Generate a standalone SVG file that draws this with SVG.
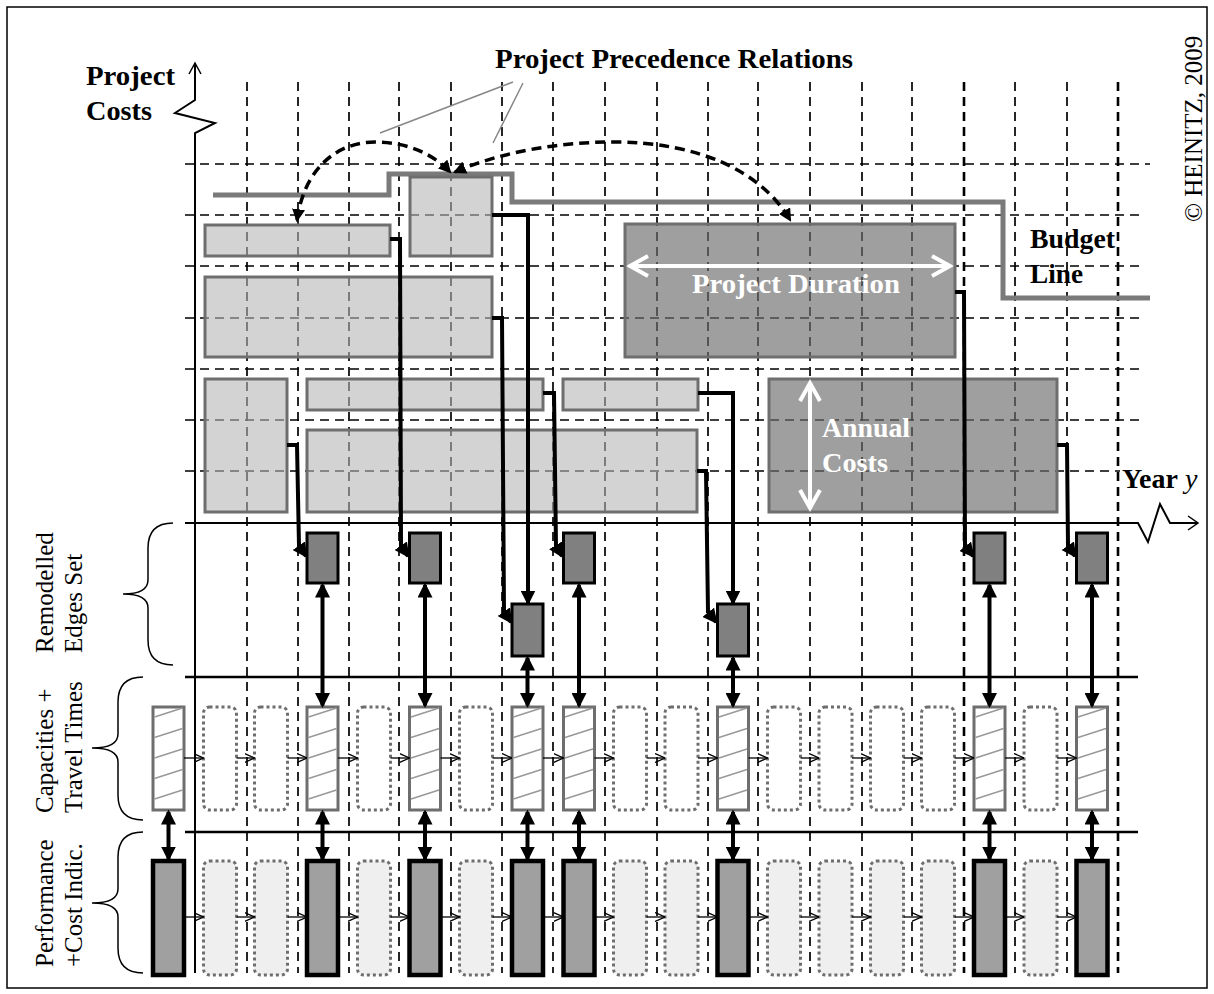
<svg xmlns="http://www.w3.org/2000/svg" width="1214" height="994" viewBox="0 0 1214 994">
<style>
.ser{font-family:"Liberation Serif","Times New Roman",serif}
.bold{font-weight:bold}
.lbl{font-size:25px}
.big{font-size:28px}
.light{fill:#b6b6b6;fill-opacity:.6;stroke:#6e6e6e;stroke-width:3}
.dark{fill:#6e6e6e;fill-opacity:.66;stroke:#6e6e6e;stroke-width:3}
.rem{fill:#808080;stroke:#000;stroke-width:3}
.dot{fill:#fff;stroke:#6e6e6e;stroke-width:3;stroke-dasharray:3,3}
.dotp{fill:#efefef;stroke:#6e6e6e;stroke-width:3;stroke-dasharray:3,3}
.perf{fill:#a0a0a0;stroke:#000;stroke-width:4.5}
.conn{fill:none;stroke:#000;stroke-width:4;marker-end:url(#ah)}
.dbl{fill:none;stroke:#000;stroke-width:4;marker-start:url(#ah);marker-end:url(#ah)}
.sm{fill:none;stroke:#000;stroke-width:1.3;marker-end:url(#oa)}
.arc{fill:none;stroke:#000;stroke-width:3.5;stroke-dasharray:10,6;marker-start:url(#ah2);marker-end:url(#ah2)}
.brace{fill:none;stroke:#000;stroke-width:1.5}
</style>
<defs>
<marker id="ah" viewBox="0 0 12 12" refX="10" refY="6" markerWidth="15" markerHeight="15" markerUnits="userSpaceOnUse" orient="auto-start-reverse"><path d="M0,0 L12,6 L0,12 z" fill="#000"/></marker>
<marker id="ah2" viewBox="0 0 12 12" refX="10" refY="6" markerWidth="13" markerHeight="13" markerUnits="userSpaceOnUse" orient="auto-start-reverse"><path d="M0,0 L12,6 L0,12 z" fill="#000"/></marker>
<marker id="oa" viewBox="0 0 10 10" refX="10" refY="5" markerWidth="10" markerHeight="10" markerUnits="userSpaceOnUse" orient="auto"><path d="M0,0.5 L10,5 L0,9.5" fill="none" stroke="#000" stroke-width="1.3"/></marker>
<g id="hb">
<rect x="0" y="0" width="31" height="103" fill="#fff" stroke="#6e6e6e" stroke-width="3"/>
<path d="M1.5,10 L29.5,1 M1.5,30.5 L29.5,21.5 M1.5,51 L29.5,42 M1.5,71.5 L29.5,62.5 M1.5,92 L29.5,83" stroke="#999" stroke-width="1.5"/>
</g>
</defs>
<rect x="0" y="0" width="1214" height="994" fill="#fff"/>
<rect x="7" y="7" width="1200" height="981" fill="none" stroke="#000" stroke-width="1.5"/>

<g id="grid" fill="none" stroke="#000" stroke-width="1.7" stroke-dasharray="9,6">
<path d="M247,82V973 M298,82V973 M349,82V973 M399,82V973 M451,82V973 M502,82V973 M553,82V973 M605,82V973 M657,82V973 M708,82V973 M758,82V973 M810,82V973 M862,82V973 M912,82V973 M1015,82V973 M1067,82V973"/>
<path d="M964,82V973 M1118,82V973" stroke-width="2.6"/>
<path d="M185,164H1150 M185,215H1145 M185,266H1145 M185,318H1145 M185,369H1140 M185,420H1140 M185,471H1120"/>
</g>

<g id="axes" fill="none" stroke="#000">
<path d="M195,973 V133 L215,123 L175,113 L195,100 V63" stroke-width="2"/>
<path d="M189,74 L195,63 L201,74" stroke-width="1.5"/>
<path d="M185,523 H1138 L1148,542 L1160,504 L1170,523 H1198" stroke-width="2"/>
<path d="M1188,516 L1198,523 L1188,530" stroke-width="1.5"/>
<path d="M185,677 H1138 M185,832 H1138" stroke-width="2.5"/>
</g>

<g id="budget-line"><path d="M213,195 H389 V174 H512 V202 H1003 V298 H1150" fill="none" stroke="#7a7a7a" stroke-width="5"/></g>

<g id="p1"><rect class="light" x="205" y="225" width="185" height="31"/></g>
<g id="p2"><rect class="light" x="410" y="177" width="82" height="79"/></g>
<g id="p3"><rect class="light" x="205" y="277" width="287" height="80"/></g>
<g id="p4"><rect class="light" x="205" y="379" width="82" height="133"/></g>
<g id="p5"><rect class="light" x="307" y="379" width="236" height="31"/></g>
<g id="p6"><rect class="light" x="307" y="430" width="390" height="82"/></g>
<g id="p7"><rect class="light" x="563" y="379" width="135" height="31"/></g>
<g id="p8"><rect class="dark" x="625" y="224" width="330" height="133"/>
<path d="M630,266 H950 M648,256 L630,266 L648,276 M932,256 L950,266 L932,276" fill="none" stroke="#fff" stroke-width="4"/>
<text class="ser bold big" x="692" y="293" textLength="208" lengthAdjust="spacingAndGlyphs" fill="#fff">Project Duration</text></g>
<g id="p9"><rect class="dark" x="769" y="379" width="288" height="133"/>
<path d="M810,383 V508 M800,401 L810,383 L820,401 M800,490 L810,508 L820,490" fill="none" stroke="#fff" stroke-width="4"/>
<text class="ser bold big" x="822" y="437" textLength="88" lengthAdjust="spacingAndGlyphs" fill="#fff">Annual</text>
<text class="ser bold big" x="822" y="472" textLength="66" lengthAdjust="spacingAndGlyphs" fill="#fff">Costs</text></g>

<g id="texts" class="ser">
<text class="bold big" x="495" y="68" textLength="358" lengthAdjust="spacingAndGlyphs">Project Precedence Relations</text>
<text class="bold big" x="86" y="85" textLength="89" lengthAdjust="spacingAndGlyphs">Project</text>
<text class="bold big" x="86" y="120" textLength="66" lengthAdjust="spacingAndGlyphs">Costs</text>
<text class="bold big" x="1030" y="248" textLength="85" lengthAdjust="spacingAndGlyphs">Budget</text>
<text class="bold big" x="1030" y="283" textLength="53" lengthAdjust="spacingAndGlyphs">Line</text>
<text class="big" x="1122" y="488"><tspan font-weight="bold">Year</tspan> <tspan font-style="italic">y</tspan></text>
<text class="lbl" transform="translate(1202,222) rotate(-90)">© HEINITZ, 2009</text>
<text class="lbl" transform="translate(53,653) rotate(-90)">Remodelled</text>
<text class="lbl" transform="translate(82,653) rotate(-90)">Edges Set</text>
<text class="lbl" transform="translate(53,813) rotate(-90)">Capacities +</text>
<text class="lbl" transform="translate(82,813) rotate(-90)">Travel Times</text>
<text class="lbl" transform="translate(53,967) rotate(-90)">Performance</text>
<text class="lbl" transform="translate(82,967) rotate(-90)">+Cost Indic.</text>
</g>

<g id="braces">
<path class="brace" d="M173,523 C155,523 148,532 148,548 V580 C148,590 138,594 123,594 C138,594 148,598 148,608 V640 C148,656 155,665 173,665"/>
<path class="brace" d="M143,677 C125,677 118,686 118,702 V734 C118,744 107,748 92,748 C107,748 118,752 118,762 V795 C118,811 125,820 143,820"/>
<path class="brace" d="M143,832 C125,832 118,841 118,857 V889 C118,899 107,903 92,903 C107,903 118,907 118,917 V948 C118,964 125,973 143,973"/>
</g>

<g id="remodelled">
<rect class="rem" x="307" y="533" width="31" height="50"/>
<rect class="rem" x="409.5" y="533" width="31" height="50"/>
<rect class="rem" x="563.5" y="533" width="31" height="50"/>
<rect class="rem" x="974" y="533" width="31" height="50"/>
<rect class="rem" x="1076.5" y="533" width="31" height="50"/>
<rect class="rem" x="512" y="604" width="31" height="52"/>
<rect class="rem" x="717.5" y="604" width="31" height="52"/>
</g>

<g id="capacities">
<use href="#hb" x="153" y="707"/>
<use href="#hb" x="307" y="707"/>
<use href="#hb" x="409.5" y="707"/>
<use href="#hb" x="512" y="707"/>
<use href="#hb" x="563.5" y="707"/>
<use href="#hb" x="717.5" y="707"/>
<use href="#hb" x="974" y="707"/>
<use href="#hb" x="1076.5" y="707"/>
<rect class="dot" x="203.5" y="707" width="33" height="103" rx="6"/>
<rect class="dot" x="254.5" y="707" width="33" height="103" rx="6"/>
<rect class="dot" x="357.5" y="707" width="33" height="103" rx="6"/>
<rect class="dot" x="459.5" y="707" width="33" height="103" rx="6"/>
<rect class="dot" x="613.5" y="707" width="33" height="103" rx="6"/>
<rect class="dot" x="665" y="707" width="33" height="103" rx="6"/>
<rect class="dot" x="767.5" y="707" width="33" height="103" rx="6"/>
<rect class="dot" x="819" y="707" width="33" height="103" rx="6"/>
<rect class="dot" x="870.5" y="707" width="33" height="103" rx="6"/>
<rect class="dot" x="921.5" y="707" width="33" height="103" rx="6"/>
<rect class="dot" x="1024" y="707" width="33" height="103" rx="6"/>
</g>

<g id="performance">
<rect class="perf" x="153" y="861" width="31" height="114"/>
<rect class="perf" x="307" y="861" width="31" height="114"/>
<rect class="perf" x="409.5" y="861" width="31" height="114"/>
<rect class="perf" x="512" y="861" width="31" height="114"/>
<rect class="perf" x="563.5" y="861" width="31" height="114"/>
<rect class="perf" x="717.5" y="861" width="31" height="114"/>
<rect class="perf" x="974" y="861" width="31" height="114"/>
<rect class="perf" x="1076.5" y="861" width="31" height="114"/>
<rect class="dotp" x="203.5" y="861" width="33" height="114" rx="6"/>
<rect class="dotp" x="254.5" y="861" width="33" height="114" rx="6"/>
<rect class="dotp" x="357.5" y="861" width="33" height="114" rx="6"/>
<rect class="dotp" x="459.5" y="861" width="33" height="114" rx="6"/>
<rect class="dotp" x="613.5" y="861" width="33" height="114" rx="6"/>
<rect class="dotp" x="665" y="861" width="33" height="114" rx="6"/>
<rect class="dotp" x="767.5" y="861" width="33" height="114" rx="6"/>
<rect class="dotp" x="819" y="861" width="33" height="114" rx="6"/>
<rect class="dotp" x="870.5" y="861" width="33" height="114" rx="6"/>
<rect class="dotp" x="921.5" y="861" width="33" height="114" rx="6"/>
<rect class="dotp" x="1024" y="861" width="33" height="114" rx="6"/>
</g>

<g id="connectors">
<path d="M513,82 L380,133 M523,83 L493,143" stroke="#888" stroke-width="1.5" fill="none"/>
<path class="arc" d="M297,220 C305,165 340,142 375,142 C410,142 435,156 450,172"/>
<path class="arc" d="M455,172 C500,152 560,142 613,142 C700,142 762,172 790,220"/>
<path class="conn" d="M287,445 H297 L299,546 L306,556"/>
<path class="conn" d="M390,239 H400 L401,546 L408,556"/>
<path class="conn" d="M492,215 H528 V603"/>
<path class="conn" d="M492,318 H502 L504,612 L511,622"/>
<path class="conn" d="M543,393 H554 L556,546 L562,556"/>
<path class="conn" d="M698,393 H733 V603"/>
<path class="conn" d="M697,471 H706 L708,612 L716,622"/>
<path class="conn" d="M955,292 H964 L965,546 L973,556"/>
<path class="conn" d="M1057,445 H1067 L1068,546 L1075,556"/>
<path class="dbl" d="M322.5,585 V705.5"/>
<path class="dbl" d="M425,585 V705.5"/>
<path class="dbl" d="M579,585 V705.5"/>
<path class="dbl" d="M989.5,585 V705.5"/>
<path class="dbl" d="M1092,585 V705.5"/>
<path class="dbl" d="M527.5,658 V705.5"/>
<path class="dbl" d="M733,658 V705.5"/>
<path class="dbl" d="M168.5,812 V859"/>
<path class="dbl" d="M322.5,812 V859"/>
<path class="dbl" d="M425,812 V859"/>
<path class="dbl" d="M527.5,812 V859"/>
<path class="dbl" d="M579,812 V859"/>
<path class="dbl" d="M733,812 V859"/>
<path class="dbl" d="M989.5,812 V859"/>
<path class="dbl" d="M1092,812 V859"/>
<path class="sm" d="M184,758H203.5"/><path class="sm" d="M236.5,758H254.5"/><path class="sm" d="M287.5,758H307"/><path class="sm" d="M338,758H357.5"/><path class="sm" d="M390.5,758H409.5"/><path class="sm" d="M440.5,758H459.5"/><path class="sm" d="M492.5,758H512"/><path class="sm" d="M543,758H563.5"/><path class="sm" d="M594.5,758H613.5"/><path class="sm" d="M646.5,758H665"/><path class="sm" d="M698,758H717.5"/><path class="sm" d="M748.5,758H767.5"/><path class="sm" d="M800.5,758H819"/><path class="sm" d="M852,758H870.5"/><path class="sm" d="M903.5,758H921.5"/><path class="sm" d="M954.5,758H974"/><path class="sm" d="M1005,758H1024"/><path class="sm" d="M1057,758H1076.5"/>
<path class="sm" d="M184,917H203.5"/><path class="sm" d="M236.5,917H254.5"/><path class="sm" d="M287.5,917H307"/><path class="sm" d="M338,917H357.5"/><path class="sm" d="M390.5,917H409.5"/><path class="sm" d="M440.5,917H459.5"/><path class="sm" d="M492.5,917H512"/><path class="sm" d="M543,917H563.5"/><path class="sm" d="M594.5,917H613.5"/><path class="sm" d="M646.5,917H665"/><path class="sm" d="M698,917H717.5"/><path class="sm" d="M748.5,917H767.5"/><path class="sm" d="M800.5,917H819"/><path class="sm" d="M852,917H870.5"/><path class="sm" d="M903.5,917H921.5"/><path class="sm" d="M954.5,917H974"/><path class="sm" d="M1005,917H1024"/><path class="sm" d="M1057,917H1076.5"/>
</g>
</svg>
